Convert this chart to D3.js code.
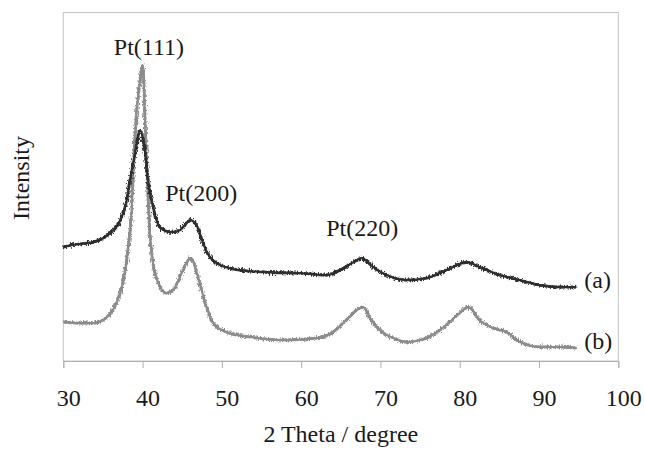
<!DOCTYPE html>
<html>
<head>
<meta charset="utf-8">
<script src="https://cdn.jsdelivr.net/npm/d3@7"></script>
<style>
  body { margin: 0; background: #fff; }
  svg text { font-family: "Liberation Serif", "Times New Roman", serif; fill: #1a1a1a; }
</style>
</head>
<body>
<script>
// XRD patterns, 2theta (degree) vs intensity (arbitrary units)
const sampleA = [[30,114],[31,116],[32,117],[33.8,119],[35.9,128],[37.2,141],[38,161],[38.4,181],[39,206],[39.7,231],[40.2,216],[40.7,181],[41.4,151],[42.2,134],[43.5,129],[44.7,131],[46,141],[46.8,136],[47.5,121],[48.1,109],[49.8,96],[52.3,91],[55.6,89],[59.9,88],[63.2,86],[64.9,91],[66.6,99],[67.6,103],[69.1,94],[70.8,86],[73.3,81],[75.8,83],[78.3,91],[80.9,99],[82.5,94],[85.1,86],[87.6,81],[90.1,76],[92.6,74],[94.7,74]];
const sampleB = [[30,39],[32.1,38],[33.8,38],[35.5,44],[36.7,58],[37.6,81],[38.2,114],[38.6,148],[39,221],[39.6,276],[40,296],[40.4,221],[40.9,131],[41.4,94],[42,78],[43,68],[44.1,74],[45.1,91],[46,103],[46.4,99],[47.2,78],[48.1,53],[48.9,38],[50.6,29],[53.5,24],[57.7,21],[62,23],[64,29],[65.7,41],[67,51],[67.8,54],[68.7,43],[69.9,31],[71.6,23],[73.3,19],[75.8,23],[78.3,36],[80,48],[81.1,54],[82.5,41],[84.2,33],[85.9,29],[87.6,19],[90.1,14],[92.6,14],[94.7,13]];
const xTicks = [30, 40, 50, 60, 70, 80, 90, 100];
// label text, 2theta, intensity of the baseline
const peakLabels = [["Pt(111)", 40.8, 306], ["Pt(200)", 47.4, 160], ["Pt(220)", 67.7, 125]];
const seriesLabels = ["(a)", "(b)"];

const W = 645, H = 450;
const margin = {top: 12.5, right: 26.7, bot: 89, left: 63.3};
const width = W - margin.left - margin.right,
      height = H - margin.top - margin.bot;

const x = d3.scaleLinear().domain([30, 100]).range([0, width]);
const y = d3.scaleLinear().domain([0, 349]).range([height, 0]);

const svgRoot = d3.select("body").append("svg")
    .attr("width", W).attr("height", H);

// a little high frequency jitter to give the traces their noisy look
const filt = svgRoot.append("defs").append("filter")
    .attr("id", "noisy")
    .attr("x", "-5%").attr("y", "-10%").attr("width", "110%").attr("height", "120%");
filt.append("feTurbulence")
    .attr("type", "fractalNoise").attr("baseFrequency", "1.1 0.4")
    .attr("numOctaves", 2).attr("seed", 3).attr("result", "n");
filt.append("feDisplacementMap")
    .attr("in", "SourceGraphic").attr("in2", "n")
    .attr("scale", 6).attr("xChannelSelector", "R").attr("yChannelSelector", "G");

const svg = svgRoot.append("g")
    .attr("transform", `translate(${margin.left}, ${margin.top})`);

// plot frame
svg.append("rect")
    .attr("width", width).attr("height", height)
    .attr("fill", "none").attr("stroke", "#c4c4c4").attr("stroke-width", 1);

// x axis with ticks pointing down
const xAxis = svg.append("g")
    .attr("transform", `translate(0, ${height})`)
    .call(d3.axisBottom(x).tickValues(xTicks).tickSize(7).tickPadding(0).tickFormat(d3.format("d")));
xAxis.select(".domain").attr("stroke", "#b0b0b0");
xAxis.selectAll(".tick line").attr("stroke", "#b0b0b0");
xAxis.selectAll(".tick text")
    .attr("font-size", 24)
    .attr("y", 45).attr("dy", null)
    .attr("dx", 5);

const line = d3.line()
    .x(d => x(d[0]))
    .y(d => y(d[1]))
    .curve(d3.curveMonotoneX);

// each trace: solid core plus a jittered copy for the noise band
const traces = [[sampleB, "#8c8c8c"], [sampleA, "#2e2e2e"]];
traces.forEach(([data, col]) => {
  svg.append("path").datum(data)
      .attr("d", line).attr("fill", "none")
      .attr("stroke", col).attr("stroke-width", 2.2);
  svg.append("path").datum(data)
      .attr("d", line).attr("fill", "none")
      .attr("stroke", col).attr("stroke-width", 3)
      .attr("filter", "url(#noisy)");
});

// peak labels
svg.selectAll(".peak")
  .data(peakLabels)
  .enter().append("text")
    .attr("class", "peak")
    .attr("x", d => x(d[1]))
    .attr("y", d => y(d[2]))
    .attr("text-anchor", "middle")
    .attr("font-size", 24)
    .text(d => d[0]);

// series tags at the right end of each trace
const ends = [sampleA[sampleA.length - 1], sampleB[sampleB.length - 1]];
svg.selectAll(".tag")
  .data(seriesLabels)
  .enter().append("text")
    .attr("class", "tag")
    .attr("x", (d, i) => x(ends[i][0]) + 8)
    .attr("y", (d, i) => y(ends[i][1]) + 1)
    .attr("font-size", 24)
    .text(d => d);

// axis titles
svg.append("text")
    .attr("x", width / 2).attr("y", height + 81)
    .attr("text-anchor", "middle")
    .attr("font-size", 24)
    .text("2 Theta / degree");

svg.append("text")
    .attr("transform", `translate(${29 - margin.left}, ${178 - margin.top}) rotate(-90)`)
    .attr("text-anchor", "middle")
    .attr("font-size", 24)
    .text("Intensity");
</script>
</body>
</html>
